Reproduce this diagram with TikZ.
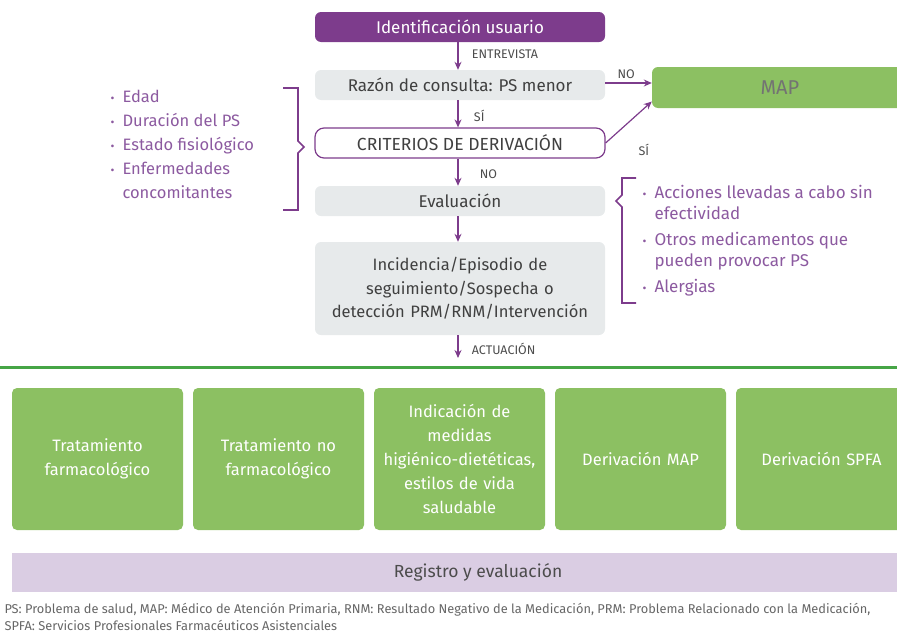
\documentclass[tikz,border=0pt]{standalone}
\usepackage{fontspec}
\setmainfont{Fira Sans}
\usetikzlibrary{positioning,arrows.meta}
\definecolor{usrpurple}{RGB}{125,60,140}
\definecolor{txtpurple}{RGB}{140,90,160}
\definecolor{boxgray}{RGB}{231,234,235}
\definecolor{mapgreen}{RGB}{140,192,98}
\definecolor{linegreen}{RGB}{70,165,70}
\definecolor{reglilac}{RGB}{218,205,227}
\newcommand{\punto}{\makebox[12pt][l]{\raisebox{0.5pt}{\fontsize{12}{12}\selectfont\textbullet}}}
\newcommand{\sinpunto}{\hspace*{12pt}}
\tikzstyle{flowbox} = [rectangle, rounded corners=6pt, minimum width=290pt, minimum height=30pt, text centered, fill=boxgray, text=black!75, font=\fontsize{17}{24}\selectfont]
\tikzstyle{greenbox} = [rectangle, rounded corners=5pt, minimum width=171pt, minimum height=142pt, text width=160pt, align=center, fill=mapgreen, text=white, font=\fontsize{16.5}{24}\selectfont]
\tikzstyle{steplabel} = [right, text=black!70, font=\fontsize{12.5}{13}\selectfont]
\tikzstyle{arrow} = [line width=1.2pt, usrpurple, -{Stealth[length=8pt,width=7pt]}]
\tikzstyle{bracket} = [usrpurple, line width=1.6pt]

\begin{document}
\begin{tikzpicture}[x=1pt,y=-1pt]
\clip (0,0) rectangle (897,640);
% flujo central
\node[flowbox, fill=usrpurple, text=white] (usuario) at (460,27) {Identificación usuario};
\node[flowbox] (razon) at (460,85) {Razón de consulta: PS menor};
\node[flowbox, fill=white, draw=usrpurple, line width=1.2pt, rounded corners=9pt, font=\fontsize{17.5}{24}\selectfont] (criterios) at (460,143) {CRITERIOS DE DERIVACIÓN};
\node[flowbox] (evaluacion) at (460,201) {Evaluación};
\node[flowbox, minimum height=93pt, text width=280pt, align=center, font=\fontsize{16.5}{23.5}\selectfont] (incidencia) at (460,288.5) {Incidencia/Episodio de\\ seguimiento/Sospecha o\\ detección PRM/RNM/Intervención};
\node[flowbox, fill=mapgreen, text=black!55, minimum width=256pt, minimum height=41pt, font=\fontsize{20}{22}\selectfont] (map) at (780,87.5) {MAP};
\coordinate (actua) at (458,358);

\draw[arrow] ([xshift=-2pt]usuario.south) -- ([xshift=-2pt]razon.north) node[midway, steplabel, xshift=10pt, yshift=2pt] {ENTREVISTA};
\draw[arrow] ([xshift=-2pt]razon.south) -- ([xshift=-2pt]criterios.north) node[midway, steplabel, xshift=12pt, yshift=-2pt] {SÍ};
\draw[arrow] ([xshift=-2pt]criterios.south) -- ([xshift=-2pt]evaluacion.north) node[midway, steplabel, xshift=18pt, yshift=-2pt] {NO};
\draw[arrow] ([xshift=-2pt]evaluacion.south) -- ([xshift=-2pt]incidencia.north);
\draw[arrow] ([xshift=-2pt]incidencia.south) -- (actua) node[midway, steplabel, xshift=10pt, yshift=-2pt] {ACTUACIÓN};
\draw[arrow] ([yshift=2pt]razon.east) -- ([yshift=2pt]razon.east -| map.west);
\draw[arrow] (criterios.east) -- ([yshift=-14pt]map.west);
\node[steplabel] (razonno) at (614,74) {NO};
\node[steplabel] (criteriossi) at (635,150) {SÍ};

% llaves laterales
\draw[bracket] (283,88) -- (298,88) -- (298,141) -- (304,147) -- (298,153) -- (298,210) -- (283,210);
\draw[bracket] (636,178) -- (622,178) -- (622,195) -- (616,201) -- (622,207) -- (622,303) -- (636,303);
\node[anchor=north west, align=left, text=txtpurple, font=\fontsize{16.5}{24}\selectfont] (criterioslista) at (107,87) {\punto Edad\\ \punto Duración del PS\\ \punto Estado fisiológico\\ \punto Enfermedades\\ \sinpunto concomitantes};
\node[anchor=north west, align=left, text=txtpurple, font=\fontsize{17}{20.5}\selectfont] (evallista) at (639,182) {\punto Acciones llevadas a cabo sin\\ \sinpunto efectividad\\[6pt] \punto Otros medicamentos que\\ \sinpunto pueden provocar PS\\[6pt] \punto Alergias};

% actuaciones
\draw[linegreen, line width=3pt] (0,367) -- (897,367);
\foreach \i/\txt in {1/{Tratamiento\\ farmacológico}, 2/{Tratamiento no\\ farmacológico}, 3/{Indicación de\\ medidas\\ higiénico-dietéticas,\\ estilos de vida\\ saludable}, 4/{Derivación MAP}, 5/{Derivación SPFA}}
  \node[greenbox] (accion\i) at ({97.5+181*(\i-1)},459) {\txt};

\node[rectangle, fill=reglilac, minimum width=932pt, minimum height=39pt, text=black!70, font=\fontsize{17.5}{20}\selectfont] (registro) at (478,572.5) {Registro y evaluación};
\node[anchor=north west, align=left, text=black!60, font=\fontsize{12.8}{17}\selectfont] (leyenda) at (1,600) {PS: Problema de salud, MAP: Médico de Atención Primaria, RNM: Resultado Negativo de la Medicación, PRM: Problema Relacionado con la Medicación,\\ SPFA: Servicios Profesionales Farmacéuticos Asistenciales};
\end{tikzpicture}
\end{document}
